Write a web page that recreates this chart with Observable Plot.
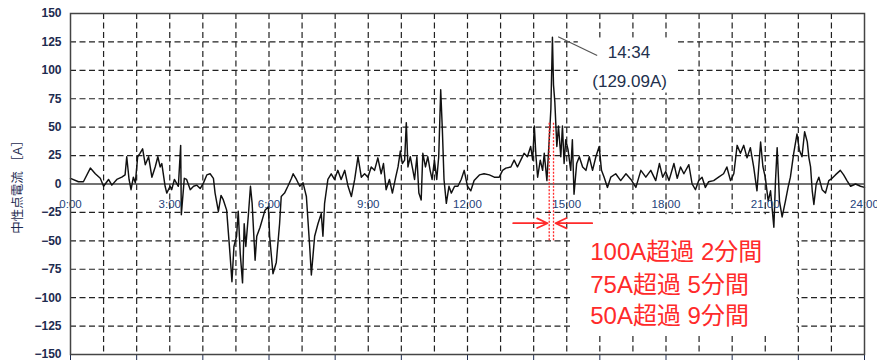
<!DOCTYPE html>
<html>
<head>
<meta charset="utf-8">
<script src="https://cdn.jsdelivr.net/npm/d3@7"></script>
<script src="https://cdn.jsdelivr.net/npm/@observablehq/plot@0.6"></script>
<style>
  html, body { margin: 0; padding: 0; background: #fff; }
  #chart { width: 877px; height: 360px; overflow: hidden; }
</style>
</head>
<body>
<div id="chart"></div>
<script>
// Time of day (hours) and neutral-point current (A)
const hours = [
  0, 0.24, 0.39, 0.6, 0.75, 0.9, 1.0, 1.15, 1.25, 1.4, 1.55, 1.65, 1.7, 1.77, 1.83, 1.9, 1.96,
  2.03, 2.1, 2.18, 2.26, 2.36, 2.46, 2.56, 2.64, 2.71, 2.76, 2.86, 2.91, 3.01, 3.06, 3.14, 3.26,
  3.33, 3.35, 3.44, 3.51, 3.62, 3.72, 3.82, 3.92, 4.02, 4.12, 4.22, 4.32, 4.37, 4.47, 4.55, 4.62,
  4.72, 4.82, 4.88, 4.94, 5.02, 5.07, 5.13, 5.2, 5.25, 5.3, 5.38, 5.44, 5.49, 5.58, 5.63, 5.73,
  5.88, 5.98, 6.02, 6.12, 6.22, 6.32, 6.37, 6.47, 6.57, 6.68, 6.73, 6.83, 6.93, 7.03, 7.13, 7.23,
  7.28, 7.38, 7.48, 7.58, 7.63, 7.68, 7.78, 7.88, 7.98, 8.08, 8.18, 8.29, 8.39, 8.49, 8.59, 8.69,
  8.79, 8.89, 8.99, 9.09, 9.19, 9.29, 9.39, 9.46, 9.54, 9.64, 9.73, 9.83, 9.9, 9.97, 10.03, 10.1,
  10.15, 10.2, 10.27, 10.35, 10.4, 10.47, 10.53, 10.6, 10.65, 10.73, 10.8, 10.87, 10.93, 11.0,
  11.07, 11.13, 11.19, 11.24, 11.29, 11.36, 11.44, 11.51, 11.61, 11.71, 11.81, 11.9, 12.0, 12.1,
  12.2, 12.36, 12.5, 12.66, 12.81, 12.96, 13.06, 13.16, 13.31, 13.41, 13.51, 13.61, 13.71, 13.81,
  13.91, 13.97, 14.02, 14.07, 14.12, 14.2, 14.27, 14.32, 14.4, 14.47, 14.52, 14.567, 14.6, 14.64,
  14.7, 14.75, 14.82, 14.87, 14.92, 14.97, 15.04, 15.12, 15.17, 15.22, 15.3, 15.38, 15.48, 15.58,
  15.68, 15.78, 15.88, 15.98, 16.05, 16.13, 16.23, 16.33, 16.48, 16.63, 16.79, 16.94, 17.09,
  17.24, 17.39, 17.54, 17.69, 17.8, 17.9, 17.99, 18.09, 18.24, 18.34, 18.44, 18.54, 18.69, 18.79,
  18.89, 18.99, 19.09, 19.19, 19.29, 19.44, 19.59, 19.74, 19.84, 19.95, 20.05, 20.15, 20.25,
  20.35, 20.45, 20.55, 20.65, 20.75, 20.86, 20.93, 21.0, 21.09, 21.16, 21.26, 21.31, 21.36,
  21.43, 21.51, 21.61, 21.69, 21.76, 21.86, 21.96, 22.03, 22.11, 22.19, 22.27, 22.32, 22.37,
  22.42, 22.47, 22.54, 22.62, 22.72, 22.82, 22.92, 23.02, 23.12, 23.27, 23.37, 23.47, 23.58,
  23.73, 23.88, 24.0
];
const current = [
  5, 2, 2, 14, 9, 5, -2, 4, -1, 4, 6, 8, 24, 4, -5, 6, 1,
  24, 27, 31, 17, 24, 6, 15, 24, 15, 18, -2, -8, -2, -5, 4, -2,
  34, -27, 5, 4, -5, -2, -1, -4, 1, 8, 9, 5, -8, -24, -10, -14,
  -23, -61, -86, -55, -46, -24, -61, -87, -35, -55, -26, -2, -17, -67, -46, -38,
  -23, -20, -46, -79, -69, -35, -11, -8, -2, 5, 9, 4, -2, 1, -11, -55,
  -80, -46, -35, -26, -46, -17, 4, 9, 4, 12, 4, 12, -2, -11, 4, 24,
  6, 9, 6, 15, 12, 23, 9, 18, -5, 4, -8, 6, 15, 29, 18, 21,
  54, 15, 24, 12, 4, 24, -8, -14, 27, 15, 24, 12, 4, 21,
  4, 24, 83, 48, 4, -17, -2, -8, -2, -2, 4, 12, -2, -6,
  3, 8, 9, 8, 6, 6, 12, 14, 15, 21, 15, 21, 27, 24,
  33, 21, 51, 24, 6, 21, 12, 27, 3, 39, 66, 129.09, 87, 72,
  33, 51, 24, 51, 18, 39, 30, 12, 39, -9, 18, 24, 15, 12,
  24, 12, 24, 33, 12, 6, -3, 6, 9, 3, 9, 4, -3,
  12, 6, 12, 3, 18, 6, 11, 3, 18, 5, 15, 9, 17, 0,
  -5, 3, 6, -3, 2, 3, 6, 9, 15, 3, 9, 34, 27,
  34, 23, 32, 15, -6, 37, 15, 6, -15, -6, -38, 3, 32,
  -15, -29, -15, -3, 6, 27, 44, 30, 24, 46, 37, 23, 15,
  -6, -18, 0, 6, -5, -8, 3, 5, 8, 12, 8, 3, -2,
  0, -2, -3
];

const xLabelHours = [0, 3, 6, 9, 12, 15, 18, 21, 24];
const xGridHours = d3.range(1, 24);
const yTicks = [-150, -125, -100, -75, -50, -25, 0, 25, 50, 75, 100, 125, 150];
const yGrid = [-125, -100, -75, -50, -25, 25, 50, 75, 100, 125];
const yTitle = "中性点電流 ［A］";

// Annotation content
const peakLabel = ["14:34", "(129.09A)"];
const peakLabelHour = [16.88, 16.9];
const peakLabelValue = [115.5, 90.5];
const peakLeader = [{x1: 14.74, y1: 129.5, x2: 15.92, y2: 113}];
const exceedLines = ["100A超過 2分間", "75A超過 5分間", "50A超過 9分間"];
const exceedHour = [15.71, 15.71, 15.71];
const exceedValue = [-60.5, -89.5, -116];
const windowHours = [14.47, 14.6];
const windowRange = [-50, 54];
const arrows = [
  {x1: 13.38, x2: 14.42, y: -34.5},
  {x1: 15.77, x2: 14.66, y: -34.5}
];
const maskBoxes = [
  {x1: 15.35, x2: 18.34, y1: 80, y2: 128.5},
  {x1: 15.17, x2: 21.96, y1: -133, y2: -27}
];

const data = hours.map((h, i) => ({h, v: current[i]}));
const navy = "#1d2b50";
const red = "#ff2a2a";
const gridStyle = {stroke: "#222", strokeWidth: 1.2, strokeDasharray: "6,3.5"};
const fmtH = h => `${h}:00`;
const fmtY = d => d < 0 ? "\u2212" + (-d) : String(d);

const chart = Plot.plot({
  width: 877,
  height: 360,
  marginLeft: 70,
  marginRight: 13,
  marginTop: 13,
  marginBottom: 6,
  style: {fontFamily: "'Liberation Sans', 'Noto Sans CJK JP', sans-serif", background: "#fff", color: navy},
  x: {domain: [0, 24]},
  y: {domain: [-150, 150]},
  marks: [
    Plot.ruleX(xGridHours, gridStyle),
    Plot.ruleY(yGrid, gridStyle),
    Plot.rect(maskBoxes, {x1: "x1", x2: "x2", y1: "y1", y2: "y2", fill: "#fff"}),
    Plot.ruleY([0], {stroke: "#444", strokeWidth: 1.6}),
    Plot.line(data, {x: "h", y: "v", stroke: "#111", strokeWidth: 1.45, strokeLinejoin: "round"}),
    Plot.ruleX(windowHours, {y1: windowRange[0], y2: windowRange[1], stroke: red, strokeWidth: 1.3, strokeDasharray: "2,1.5"}),
    Plot.arrow(arrows, {x1: "x1", x2: "x2", y1: "y", y2: "y", stroke: red, strokeWidth: 1.7, headLength: 11, headAngle: 50}),
    Plot.link(peakLeader, {x1: "x1", y1: "y1", x2: "x2", y2: "y2", stroke: "#555", strokeWidth: 1.2}),
    Plot.text(peakLabel, {x: (d, i) => peakLabelHour[i], y: (d, i) => peakLabelValue[i], text: d => d, fontSize: 17, fill: "#22304d"}),
    Plot.text(exceedLines, {x: (d, i) => exceedHour[i], y: (d, i) => exceedValue[i], text: d => d, textAnchor: "start", fontSize: 24, fill: red}),
    Plot.text(xLabelHours, {x: d => d, y: 0, dy: 20, text: fmtH, fontSize: 11.5, fill: "#24427a"}),
    Plot.axisY(yTicks, {tickSize: 0, tickPadding: 9, tickFormat: fmtY, fontSize: 12, fontWeight: "bold", fill: navy}),
    Plot.text([yTitle], {frameAnchor: "left", dx: -53, rotate: -90, textAnchor: "middle", fontSize: 12.5, fill: navy, text: d => d}),
    Plot.frame({stroke: "#444", strokeWidth: 1.5})
  ]
});
document.getElementById("chart").appendChild(chart);
</script>
</body>
</html>
